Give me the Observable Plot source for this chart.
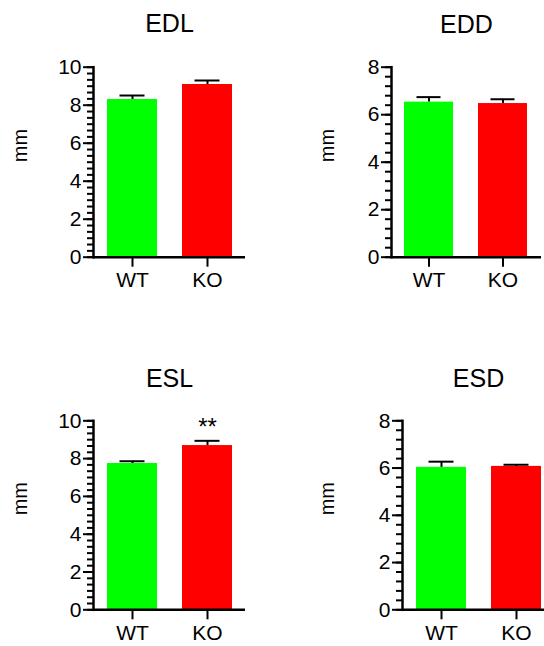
<!DOCTYPE html>
<html>
<head>
<meta charset="utf-8">
<script src="https://cdn.jsdelivr.net/npm/d3@7"></script>
<script src="https://cdn.jsdelivr.net/npm/@observablehq/plot@0.6"></script>
<style>
  html, body { margin: 0; padding: 0; background: #fff; overflow: hidden; }
  #wrap { position: relative; width: 544px; height: 646px; overflow: hidden; font-family: Arial, "Liberation Sans", sans-serif; }
  #wrap > div { position: absolute; }
  svg { overflow: visible; max-width: none !important; }
</style>
</head>
<body>
<div id="wrap"></div>
<script>
// ---- data ----
const categories = ["WT", "KO"];
const barColors = ["#00ff00", "#ff0000"];

const titles = ["EDL", "EDD", "ESL", "ESD"];
const yLabel = "mm";

const edlMean = [8.30, 9.09];
const edlErr  = [0.21, 0.21];
const eddMean = [6.53, 6.47];
const eddErr  = [0.21, 0.18];
const eslMean = [7.74, 8.69];
const eslErr  = [0.12, 0.25];
const esdMean = [6.03, 6.07];
const esdErr  = [0.24, 0.07];

const edlSig = ["", ""];
const eddSig = ["", ""];
const eslSig = ["", "**"];
const esdSig = ["", ""];

const yMax10 = 10, yMax8 = 8;
const majorTicks10 = [0, 2, 4, 6, 8, 10];
const majorTicks8 = [0, 2, 4, 6, 8];
const minorCount10 = 30; // minor every 1/3 unit
const minorCount8 = 20;  // minor every 0.4 unit

// ---- layout ----
const panels = [
  {title: titles[0], mean: edlMean, err: edlErr, sig: edlSig, yMax: yMax10, major: majorTicks10, minorN: minorCount10,
   left: 0, top: 0, width: 272, height: 300, mL: 93, mR: 27, mT: 66.7, mB: 43.3, po: 0.18, labelX: 20, titleDy: -34.7},
  {title: titles[1], mean: eddMean, err: eddErr, sig: eddSig, yMax: yMax8, major: majorTicks8, minorN: minorCount8,
   left: 272, top: 0, width: 272, height: 300, mL: 119, mR: 3, mT: 66.7, mB: 43.3, po: 0.167, labelX: 55, titleDy: -34.4},
  {title: titles[2], mean: eslMean, err: eslErr, sig: eslSig, yMax: yMax10, major: majorTicks10, minorN: minorCount10,
   left: 0, top: 340, width: 272, height: 306, mL: 93, mR: 27, mT: 80.3, mB: 36.7, po: 0.18, labelX: 20, titleDy: -33.6},
  {title: titles[3], mean: esdMean, err: esdErr, sig: esdSig, yMax: yMax8, major: majorTicks8, minorN: minorCount8,
   left: 272, top: 340, width: 282, height: 306, mL: 130, mR: 0, mT: 80.3, mB: 36.7, po: 0.18, labelX: 55, titleDy: -34.3}
];

const font = "Arial, 'Liberation Sans', sans-serif";
const wrap = document.getElementById("wrap");

for (const p of panels) {
  const rows = categories.map((c, i) => ({cat: c, mean: p.mean[i], hi: p.mean[i] + p.err[i], color: barColors[i], sig: p.sig[i]}));
  const minor = d3.range(p.minorN + 1).map(i => i * p.yMax / p.minorN);
  const chart = Plot.plot({
    width: p.width,
    height: p.height,
    marginLeft: p.mL,
    marginRight: p.mR,
    marginTop: p.mT,
    marginBottom: p.mB,
    style: {fontFamily: font, color: "#000", background: "transparent", maxWidth: "none"},
    x: {type: "band", domain: categories, paddingInner: 1/3, paddingOuter: p.po, axis: null},
    y: {domain: [0, p.yMax], axis: null},
    marks: [
      Plot.barY(rows, {x: "cat", y: "mean", fill: "color"}),
      Plot.ruleX(rows, {x: "cat", y1: "mean", y2: "hi", stroke: "#000", strokeWidth: 2}),
      Plot.tickY(rows, {x: "cat", y: "hi", stroke: "#000", strokeWidth: 2, insetLeft: 12.5, insetRight: 12.5}),
      Plot.text(rows, {x: "cat", y: "hi", text: "sig", fontSize: 24, lineAnchor: "bottom", dy: -6, fill: "#000"}),
      Plot.axisY({ticks: minor, tickSize: 6, tickFormat: () => "", strokeWidth: 2, label: null}),
      Plot.axisY({ticks: p.major, tickSize: 10, tickPadding: 2, fontSize: 21, strokeWidth: 2, label: null}),
      Plot.axisX({tickSize: 10, tickPadding: 5, fontSize: 21, strokeWidth: 2, label: null}),
      Plot.frame({anchor: "left", strokeWidth: 2.5}),
      Plot.ruleY([0], {strokeWidth: 2.5}),
      Plot.text([p.title], {frameAnchor: "top", lineAnchor: "bottom", dy: p.titleDy, fontSize: 25, fill: "#000"}),
      Plot.text([yLabel], {frameAnchor: "left", rotate: -90, dx: p.labelX - p.mL, fontSize: 20, fill: "#000"})
    ]
  });
  const holder = document.createElement("div");
  holder.style.left = p.left + "px";
  holder.style.top = p.top + "px";
  holder.style.width = p.width + "px";
  holder.style.height = p.height + "px";
  holder.appendChild(chart);
  wrap.appendChild(holder);
}
</script>
</body>
</html>
